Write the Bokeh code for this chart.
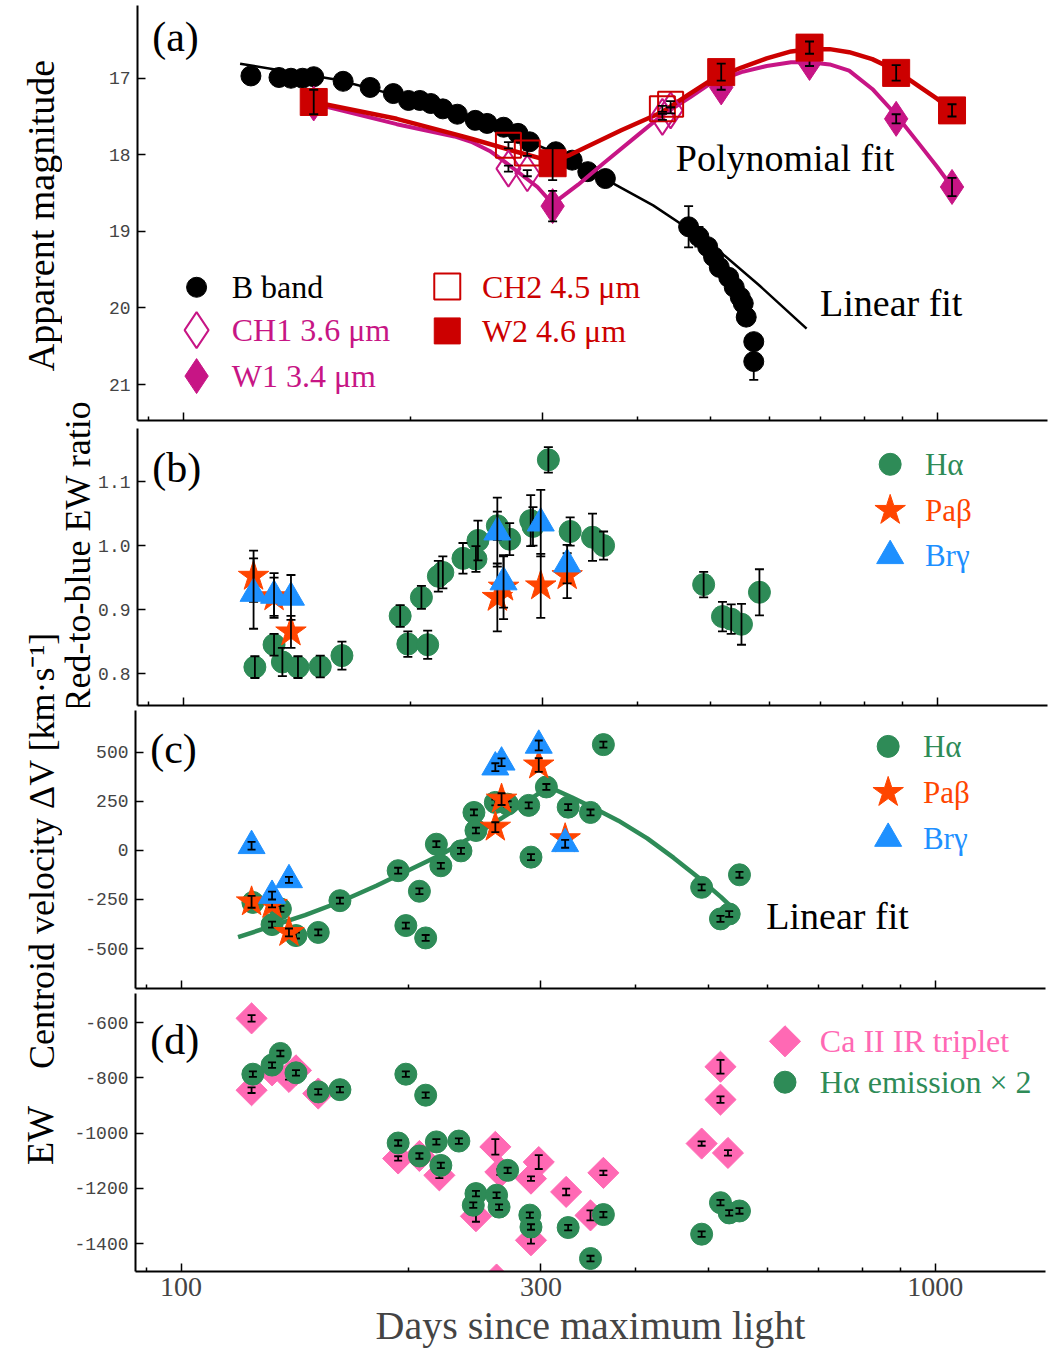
import numpy as np
from bokeh.plotting import figure
from bokeh.layouts import column, row
from bokeh.models import Range1d, FixedTicker, NumeralTickFormatter
from bokeh.core.properties import value
from bokeh.embed import file_html
from bokeh.resources import INLINE

# ---------------- data: panel (a) ----------------
b_day = [123, 134, 139, 144, 149, 163, 177, 190, 199, 206, 213, 221, 231, 244, 253,
         266, 278, 288, 312, 328, 344, 363, 468, 483, 496, 505, 514, 529, 538, 548,
         553, 558, 571, 571]
b_mag = [16.97, 16.99, 17.00, 17.00, 16.98, 17.04, 17.12, 17.20, 17.29, 17.29, 17.33,
         17.40, 17.47, 17.55, 17.59, 17.64, 17.72, 17.83, 17.96, 18.07, 18.22, 18.31,
         18.94, 19.07, 19.20, 19.33, 19.47, 19.60, 19.73, 19.86, 19.94, 20.12, 20.44, 20.70]
b_err = [0.02, 0.02, 0.02, 0.02, 0.02, 0.02, 0.02, 0.02, 0.02, 0.02, 0.02, 0.02, 0.02,
         0.02, 0.02, 0.02, 0.02, 0.02, 0.05, 0.04, 0.02, 0.02, 0.27, 0.13, 0.03, 0.03,
         0.03, 0.03, 0.03, 0.03, 0.03, 0.04, 0.06, 0.24]
lin_day = [119, 160, 200, 250, 311, 368, 420, 468, 520, 580, 671]
lin_mag = [16.81, 17.02, 17.27, 17.58, 17.97, 18.35, 18.66, 18.97, 19.30, 19.70, 20.27]

w_day = [149, 309, 517, 677, 882, 1046]
w2_mag = [17.31, 18.11, 16.92, 16.60, 16.93, 17.42]
w2_err = [0.16, 0.22, 0.11, 0.08, 0.10, 0.08]
w1_mag = [17.33, 18.67, 17.12, 16.80, 17.53, 18.42]
w1_err = [0.10, 0.20, 0.03, 0.04, 0.06, 0.12]
ch_day = [270, 286, 432, 443]
ch1_mag = [18.18, 18.24, 17.505, 17.42]
ch2_mag = [17.875, 17.975, 17.40, 17.34]
ch_err = [0.04, 0.04, 0.04, 0.04]

polyr_day = [149, 192, 229, 241, 272, 309, 326, 381, 432, 470, 500, 550, 594, 640, 677,
             720, 764, 820, 882, 950, 1000, 1046]
polyr_mag = [17.31, 17.53, 17.73, 17.79, 17.94, 18.09, 18.00, 17.68, 17.44, 17.20, 17.03,
             16.86, 16.74, 16.65, 16.62, 16.62, 16.66, 16.75, 16.90, 17.12, 17.27, 17.42]
polym_day = [149, 192, 229, 241, 255, 266, 295, 309, 334, 361, 400, 432, 470, 500, 550,
             594, 640, 677, 720, 764, 820, 882, 950, 1000, 1046]
polym_mag = [17.33, 17.60, 17.76, 17.83, 17.95, 18.08, 18.42, 18.64, 18.39, 18.11, 17.75,
             17.48, 17.25, 17.07, 16.92, 16.84, 16.79, 16.79, 16.82, 16.90, 17.14, 17.48,
             17.88, 18.16, 18.42]

# ---------------- data: panel (b) ----------------
ha_b_day = [124.5, 132, 135.4, 142, 152, 162.4, 194, 198.6, 207, 211, 218, 221, 235,
            244.5, 246, 261, 271, 289, 291, 305, 326, 349, 361, 490, 519, 533, 550, 581]
ha_b_val = [0.810, 0.845, 0.818, 0.810, 0.811, 0.828, 0.890, 0.846, 0.919, 0.845, 0.952,
            0.958, 0.980, 0.979, 1.008, 1.031, 1.010, 1.039, 1.030, 1.134, 1.022, 1.013,
            1.000, 0.939, 0.889, 0.885, 0.877, 0.927]
ha_b_err = [0.017, 0.017, 0.022, 0.017, 0.017, 0.022, 0.017, 0.020, 0.018, 0.022, 0.024,
            0.025, 0.024, 0.020, 0.031, 0.022, 0.025, 0.040, 0.030, 0.020, 0.022, 0.037,
            0.022, 0.020, 0.023, 0.023, 0.032, 0.036]
nir_day = [124, 132, 139, 261, 266, 298, 323]
pab_b_val = [0.952, 0.920, 0.865, 0.919, 0.935, 0.937, 0.953]
pab_b_err = [0.040, 0.030, 0.025, 0.053, 0.050, 0.050, 0.035]
brg_b_val = [0.925, 0.922, 0.919, 1.021, 0.943, 1.035, 0.971]
brg_b_err = [0.055, 0.035, 0.035, 0.054, 0.040, 0.052, 0.030]

# ---------------- data: panel (c) ----------------
ha_c_day = [124.5, 132, 135.4, 142, 152, 162.4, 194, 198.6, 207, 211, 218, 221, 235,
            244.5, 246, 261, 271, 289, 291, 305, 326, 349, 363, 490, 519, 533, 550]
ha_c_val = [-265, -378, -298, -434, -418, -256, -103, -383, -208, -446, 32, -78, -2,
            194, 102, 245, 236, 230, -34, 324, 221, 194, 540, -188, -349, -324, -124]
ha_c_err = [15] * len(ha_c_day)
pab_c_val = [-262, -275, -418, 119, 262, 436, 60]
pab_c_err = [30, 15, 20, 25, 30, 35, 15]
brg_c_val = [24, -230, -150, 425, 450, 536, 34]
brg_c_err = [20, 20, 15, 20, 20, 25, 20]
fitc_day = [119, 146, 162, 181.5, 221, 244.5, 270, 307, 330, 353, 380, 415, 450, 488,
            520, 543]
fitc_val = [-442, -330, -264, -180, -22, 76, 180, 325, 270, 215, 152, 62, -38, -146,
            -238, -307]

# ---------------- data: panel (d) ----------------
ca_day = [124, 124, 132, 139, 142, 152, 194, 207, 220, 246, 261, 265, 291, 291, 298,
          324, 349, 363, 490, 519, 519, 531, 262]
ca_val = [-585, -845, -773, -797, -773, -857, -1092, -1083, -1153, -1301, -1050, -1141,
          -1165, -1388, -1105, -1213, -1298, -1144, -1038, -760, -879, -1072, -1530]
ca_err = [12, 10, 10, 10, 10, 10, 8, 10, 10, 20, 28, 10, 8, 12, 25, 12, 18, 8, 8, 25,
          12, 10, 10]
ha_d_day = [124.5, 132, 135.4, 142, 152, 162.4, 194, 198.6, 207, 211, 218, 221, 233.5,
            244, 246, 262, 264, 271, 290, 291, 326, 349, 363, 490, 519, 533, 550]
ha_d_val = [-787, -754, -712, -782, -851, -843, -1036, -787, -1083, -863, -1032, -1117,
            -1029, -1261, -1219, -1225, -1268, -1135, -1297, -1340, -1342, -1454, -1295,
            -1366, -1252, -1289, -1282]
ha_d_err = [10] * len(ha_d_day)

x_ticks = [100, 300, 1000]
x_minor = [90, 200, 400, 500, 600, 700, 800, 900]

# ---------------- style ----------------
SERIF = "Liberation Serif"
MONO = "Liberation Mono"
C_MAG = "#C71585"
C_RED = "#CC0000"
C_GRN = "#2E8B57"
C_ORG = "#FF4500"
C_BLU = "#1E90FF"
C_PNK = "#FF69B4"

x_range = Range1d(87, 1400)


def make_fig(yr, frame_h, left, top, bottom, yticks, yfmt, last=False):
    p = figure(x_axis_type="log", x_range=x_range, y_range=yr,
               frame_width=910, frame_height=frame_h,
               min_border_left=left, min_border_right=5,
               min_border_top=top, min_border_bottom=bottom,
               output_backend="svg", toolbar_location=None)
    p.outline_line_color = None
    p.grid.grid_line_color = None
    p.background_fill_color = "white"
    p.border_fill_color = "white"
    for ax in (p.xaxis[0], p.yaxis[0]):
        ax.axis_line_width = 2
        ax.axis_line_color = "black"
        ax.major_tick_in = 8
        ax.major_tick_out = 0
        ax.minor_tick_in = 4
        ax.minor_tick_out = 0
        ax.major_tick_line_width = 1.5
        ax.minor_tick_line_width = 1.5
    xa = p.xaxis[0]
    xa.ticker = FixedTicker(ticks=x_ticks, minor_ticks=x_minor)
    xa.formatter = NumeralTickFormatter(format="0")
    if last:
        xa.major_label_text_font = SERIF
        xa.major_label_text_font_size = "28px"
        xa.major_label_standoff = 6
        xa.axis_label = "Days since maximum light"
        xa.axis_label_text_font = SERIF
        xa.axis_label_text_font_size = "40px"
        xa.axis_label_text_font_style = "normal"
        xa.axis_label_standoff = 4
    else:
        xa.major_label_text_font_size = "1px"
        xa.major_label_text_color = None
        xa.major_label_standoff = 0
    ya = p.yaxis[0]
    ya.ticker = FixedTicker(ticks=yticks)
    ya.formatter = NumeralTickFormatter(format=yfmt)
    ya.minor_tick_line_color = None
    ya.major_label_text_font = MONO
    ya.major_label_text_font_size = "18px"
    ya.major_label_standoff = 7
    return p


def label_fig(w, h):
    p = figure(width=w, height=h, x_range=Range1d(0, w), y_range=Range1d(0, h),
               min_border=0, output_backend="svg", toolbar_location=None)
    p.axis.visible = False
    p.grid.visible = False
    p.outline_line_color = None
    p.border_fill_color = "white"
    return p


def vtext(p, x, y, s, size="38px"):
    p.text(x=[x], y=[y], text=[s], angle=np.pi / 2, text_font=value(SERIF),
           text_font_size=size, text_color="black", text_align="center",
           text_baseline="middle")


def errbars(p, x, y, e, cap=9, lw=1.8):
    x = np.asarray(x, float)
    y = np.asarray(y, float)
    e = np.asarray(e, float)
    p.segment(x, y - e, x, y + e, line_color="black", line_width=lw)
    p.scatter(np.concatenate([x, x]), np.concatenate([y - e, y + e]), marker="dash",
              size=cap, line_color="black", line_width=lw)


def txt(p, x, y, s, color="black", size="31px", align="left"):
    p.text(x=[x], y=[y], text=[s], text_font=value(SERIF), text_font_size=size,
           text_color=color, text_baseline="middle", text_align=align)


# ---------------- panel (a) ----------------
pa = make_fig(Range1d(21.47, 16.05), 415, 40, 5, 3, [17, 18, 19, 20, 21], "0")
pa.line(lin_day, lin_mag, line_color="black", line_width=2.5)
pa.scatter(b_day, b_mag, marker="circle", size=20, fill_color="black", line_color="black")
errbars(pa, b_day, b_mag, b_err)
pa.line(polym_day, polym_mag, line_color=C_MAG, line_width=4)
pa.line(polyr_day, polyr_mag, line_color=C_RED, line_width=4.5)
pa.scatter(ch_day, ch1_mag, marker="diamond", size=36, fill_color=None,
           line_color=C_MAG, line_width=2)
pa.scatter(ch_day, ch2_mag, marker="square", size=25, fill_color=None,
           line_color=C_RED, line_width=2)
errbars(pa, ch_day, ch1_mag, ch_err)
errbars(pa, ch_day, ch2_mag, ch_err)
pa.scatter(w_day, w1_mag, marker="diamond", size=35, fill_color=C_MAG, line_color=C_MAG)
errbars(pa, w_day, w1_mag, w1_err)
pa.scatter(w_day, w2_mag, marker="square", size=27, fill_color=C_RED, line_color=C_RED)
errbars(pa, w_day, w2_mag, w2_err)

txt(pa, 91, 16.46, "(a)", size="42px")
txt(pa, 450, 18.04, "Polynomial fit", size="38px")
txt(pa, 699, 19.94, "Linear fit", size="38px")
# legend (a)
pa.scatter([104.2], [19.73], marker="circle", size=20, fill_color="black", line_color="black")
pa.scatter([104.2], [20.29], marker="diamond", size=36, fill_color=None,
           line_color=C_MAG, line_width=2)
pa.scatter([104.2], [20.89], marker="diamond", size=35, fill_color=C_MAG, line_color=C_MAG)
pa.scatter([224], [19.72], marker="square", size=26, fill_color=None,
           line_color=C_RED, line_width=2)
pa.scatter([224], [20.30], marker="square", size=26, fill_color=C_RED, line_color=C_RED)
txt(pa, 116, 19.73, "B band", size="32px")
txt(pa, 116, 20.29, "CH1 3.6 μm", C_MAG, size="32px")
txt(pa, 116, 20.89, "W1 3.4 μm", C_MAG, size="32px")
txt(pa, 249, 19.72, "CH2 4.5 μm", C_RED, size="32px")
txt(pa, 249, 20.30, "W2 4.6 μm", C_RED, size="32px")

# ---------------- panel (b) ----------------
pb = make_fig(Range1d(0.75, 1.183), 277, 40, 5, 2, [0.8, 0.9, 1.0, 1.1], "0.0")
pb.scatter(ha_b_day, ha_b_val, marker="circle", size=22, fill_color=C_GRN, line_color=C_GRN)
errbars(pb, ha_b_day, ha_b_val, ha_b_err)
pb.scatter(nir_day, pab_b_val, marker="star", size=32, fill_color=C_ORG, line_color=C_ORG)
errbars(pb, nir_day, pab_b_val, pab_b_err)
pb.scatter(nir_day, brg_b_val, marker="triangle", size=27, fill_color=C_BLU, line_color=C_BLU)
errbars(pb, nir_day, brg_b_val, brg_b_err)
txt(pb, 91, 1.122, "(b)", size="42px")
pb.scatter([866], [1.127], marker="circle", size=22, fill_color=C_GRN, line_color=C_GRN)
pb.scatter([866], [1.055], marker="star", size=32, fill_color=C_ORG, line_color=C_ORG)
pb.scatter([866], [0.984], marker="triangle", size=27, fill_color=C_BLU, line_color=C_BLU)
txt(pb, 963, 1.127, "Hα", C_GRN)
txt(pb, 963, 1.055, "Paβ", C_ORG)
txt(pb, 963, 0.984, "Brγ", C_BLU)

# ---------------- panel (c) ----------------
pc = make_fig(Range1d(-704, 714), 278, 73, 3, 2, [-500, -250, 0, 250, 500], "0")
pc.line(fitc_day, fitc_val, line_color=C_GRN, line_width=4.5)
pc.scatter(ha_c_day, ha_c_val, marker="circle", size=22, fill_color=C_GRN, line_color=C_GRN)
errbars(pc, ha_c_day, ha_c_val, ha_c_err, cap=8)
pc.scatter(nir_day, pab_c_val, marker="star", size=32, fill_color=C_ORG, line_color=C_ORG)
errbars(pc, nir_day, pab_c_val, pab_c_err, cap=8)
pc.scatter(nir_day, brg_c_val, marker="triangle", size=27, fill_color=C_BLU, line_color=C_BLU)
errbars(pc, nir_day, brg_c_val, brg_c_err, cap=8)
txt(pc, 91, 520, "(c)", size="42px")
txt(pc, 597, -332, "Linear fit", size="38px")
pc.scatter([866], [531], marker="circle", size=22, fill_color=C_GRN, line_color=C_GRN)
pc.scatter([866], [296], marker="star", size=32, fill_color=C_ORG, line_color=C_ORG)
pc.scatter([866], [61], marker="triangle", size=27, fill_color=C_BLU, line_color=C_BLU)
txt(pc, 963, 531, "Hα", C_GRN)
txt(pc, 963, 296, "Paβ", C_ORG)
txt(pc, 963, 61, "Brγ", C_BLU)

# ---------------- panel (d) ----------------
pd_ = make_fig(Range1d(-1501, -495), 278, 73, 3, 82, [-1400, -1200, -1000, -800, -600],
               "0", last=True)
pd_.scatter(ca_day, ca_val, marker="square", angle=np.pi / 4, size=22,
            fill_color=C_PNK, line_color=C_PNK)
errbars(pd_, ca_day, ca_val, ca_err, cap=8)
pd_.scatter(ha_d_day, ha_d_val, marker="circle", size=22, fill_color=C_GRN, line_color=C_GRN)
errbars(pd_, ha_d_day, ha_d_val, ha_d_err, cap=8)
txt(pd_, 91, -664, "(d)", size="42px")
pd_.scatter([632], [-668], marker="square", angle=np.pi / 4, size=22,
            fill_color=C_PNK, line_color=C_PNK)
pd_.scatter([632], [-816], marker="circle", size=22, fill_color=C_GRN, line_color=C_GRN)
txt(pd_, 703, -668, "Ca II IR triplet", C_PNK, size="32px")
txt(pd_, 703, -816, "Hα emission × 2", C_GRN, size="32px")

# ---------------- y-axis titles (separate strips, may span panels) ----------------
labA = label_fig(62, 423)
vtext(labA, 40, 423 - 215, "Apparent magnitude")
labB = label_fig(33, 707)
vtext(labB, 15, 707 - 556, "Red-to-blue EW ratio", size="36px")
labCD = label_fig(62, 930)
vtext(labCD, 41.5, 930 - (850 - 423), "Centroid velocity ΔV [km·s⁻¹]", size="36px")
vtext(labCD, 39, 930 - (1135 - 423), "EW")

layout = row(column(labA, labCD),
             column(row(labB, column(pa, pb)), pc, pd_))
open("out.html", "w").write(file_html(layout, INLINE))
